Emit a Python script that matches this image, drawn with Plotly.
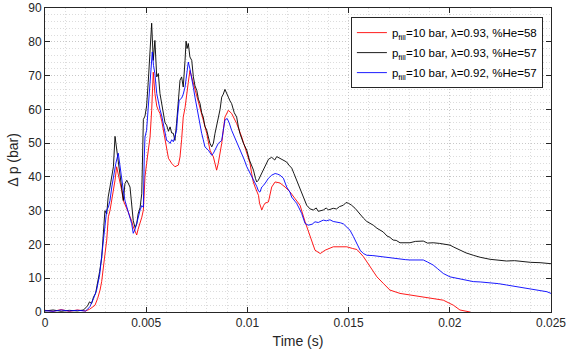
import plotly.graph_objects as go

# ---- data ----
t_red = [0, 0.0004, 0.0008, 0.0012, 0.0016, 0.0020, 0.0022, 0.00247, 0.0026, 0.00272, 0.0028, 0.00288,
         0.00296, 0.00305, 0.00313, 0.00321, 0.0033, 0.00338, 0.00346, 0.00354, 0.00362, 0.0037, 0.00379,
         0.00387, 0.00395, 0.00404, 0.00412, 0.0042, 0.00428, 0.00436, 0.00445, 0.00453, 0.0046, 0.0047,
         0.00478, 0.00486, 0.0049, 0.00494, 0.00502, 0.0051, 0.00519, 0.00527, 0.00535, 0.00543, 0.00552,
         0.0056, 0.00568, 0.00577, 0.00585, 0.00593, 0.00601, 0.0061, 0.00626, 0.00642, 0.00659, 0.00667,
         0.00675, 0.00683, 0.00692, 0.007, 0.00708, 0.00716, 0.00725, 0.00733, 0.00741, 0.0075, 0.00766,
         0.00782, 0.00799, 0.00815, 0.00832, 0.0084, 0.00848, 0.00856, 0.00873, 0.00889, 0.00906, 0.00922,
         0.00947, 0.00972, 0.00997, 0.01013, 0.01021, 0.01029, 0.01038, 0.01046, 0.01055, 0.0106, 0.01071,
         0.0108, 0.01087, 0.01104, 0.0112, 0.01137, 0.01161, 0.01186, 0.0121, 0.01235, 0.0126, 0.01285,
         0.0131, 0.01334, 0.0136, 0.01384, 0.01424, 0.0146, 0.01491, 0.0152, 0.01541, 0.01573, 0.01606,
         0.0164, 0.01671, 0.01704, 0.01754, 0.01803, 0.01869, 0.01918, 0.01968, 0.02018, 0.0205, 0.021, 0.0212]
p_red = [0.5, 0.2, 0.7, 0.2, 0.6, 0.3, 0.8, 2, 4, 6.5, 9, 12.4,
         17, 21.3, 28.2, 30, 33, 36, 39, 43, 41, 39, 36,
         33, 32, 31, 29.5, 28.2, 27, 25.2, 24, 22.8, 24.5, 26.2,
         28, 30.2, 38, 40, 44, 47.9, 51.8, 59.7, 71, 64.7, 61,
         59.7, 58.8, 56.5, 53.8, 51, 47.9, 45.5, 44, 43, 43.5, 45.9,
         51, 57.7, 60.5, 63.6, 68, 71.5, 69.5, 67.7, 66, 64.7, 60.7,
         56.8, 52.9, 47.9, 45.9, 43.5, 42, 44, 49.9, 57.7, 59.7, 58.8,
         55.8, 51.8, 47, 44, 41, 38.5, 37, 36, 34.5, 32.2, 30.2,
         31.5, 32.2, 32.6, 37, 38.5, 38.2, 37, 35.6, 33.6, 31.6, 26.7,
         22.3, 18.3, 17.3, 18.3, 19.3, 19.4, 19.3, 18.8, 18.5, 16.4, 13.4,
         10.4, 8.5, 6.5, 5.5, 5, 4.5, 4, 3.5, 2, 0.6, 0, -1]

t_black = [0, 0.0004, 0.0008, 0.0012, 0.0016, 0.0019, 0.0021, 0.0022, 0.0023, 0.0024, 0.0025, 0.0026,
           0.0027, 0.0028, 0.0029, 0.00296, 0.00305, 0.00312, 0.00321, 0.0033, 0.00338, 0.00346, 0.00354,
           0.0036, 0.0037, 0.00378, 0.00387, 0.00395, 0.00404, 0.0042, 0.00428, 0.00436, 0.00445, 0.00453,
           0.0046, 0.0047, 0.00478, 0.00482, 0.00486, 0.00494, 0.00502, 0.0051, 0.00519, 0.00527, 0.00535,
           0.00543, 0.00552, 0.0056, 0.00568, 0.00576, 0.00585, 0.00593, 0.00601, 0.0061, 0.00618, 0.00626,
           0.00634, 0.00642, 0.0065, 0.00659, 0.00667, 0.00675, 0.00683, 0.00692, 0.00697, 0.00702, 0.00708,
           0.00716, 0.00725, 0.00733, 0.00741, 0.0075, 0.00758, 0.00766, 0.00774, 0.00782, 0.0079, 0.00799,
           0.00807, 0.00815, 0.00824, 0.00832, 0.0084, 0.00848, 0.00856, 0.00865, 0.00873, 0.00881, 0.00889,
           0.00897, 0.00906, 0.00914, 0.00922, 0.00935, 0.00947, 0.00955, 0.00963, 0.0098, 0.00997, 0.0101,
           0.0103, 0.0104, 0.01046, 0.01054, 0.01062, 0.01075, 0.01087, 0.01104, 0.0112, 0.01135, 0.01145,
           0.01161, 0.01178, 0.01194, 0.01205, 0.01219, 0.0123, 0.01243, 0.01255, 0.01268, 0.0128, 0.01293,
           0.0131, 0.01326, 0.0134, 0.0135, 0.01375, 0.0139, 0.0140, 0.01424, 0.0144, 0.01455, 0.01474,
           0.01487, 0.01499, 0.01515, 0.01532, 0.0155, 0.01573, 0.0159, 0.01622, 0.0164, 0.01671, 0.0169,
           0.01704, 0.0172, 0.01735, 0.01754, 0.0178, 0.01803, 0.0183, 0.01869, 0.0189, 0.01918, 0.0195,
           0.02001, 0.0202, 0.0205, 0.0208, 0.02116, 0.0215, 0.02199, 0.0224, 0.0228, 0.0232, 0.02363,
           0.024, 0.02446, 0.0248, 0.025]
p_black = [0.3, 0.6, 0.2, 0.5, 0.3, 0.6, 1.8, 3.0, 2.5, 4.5, 5.5, 8.5,
           12, 16, 24, 30, 29, 34, 37, 40, 43, 52, 48,
           46, 40, 36, 33, 38, 39, 37, 31, 27, 25, 26,
           29, 31, 35, 45, 57, 58, 61, 68, 79.5, 85.5, 74.5,
           80.4, 69.6, 70.6, 64.7, 62, 58.8, 56, 55.3, 53.5, 54.8, 53,
           52.9, 50.8, 55.8, 63.6, 68.6, 69.6, 66.6, 74.5, 80.2, 78, 79.5,
           75.5, 74.5, 69.6, 67, 65.6, 63, 61.7, 59, 57.7, 55, 53.8,
           51.5, 49.9, 48.9, 50, 52.9, 55, 57.7, 60, 63.6, 64.5, 65.9,
           64.5, 63.6, 62.5, 61.7, 59, 57.7, 55, 52.9, 50, 47.9, 45,
           42, 39.5, 38.5, 39, 40, 41.5, 43, 45.2, 45.8, 45, 46,
           45.5, 45, 44.4, 43.5, 42.6, 41, 39, 37, 35.2, 33.5, 31.6,
           30.5, 30.2, 30.8, 29.8, 30.2, 30.8, 30.2, 30.7, 30.5, 31.2, 31.6,
           32.4, 32.2, 31.6, 30.7, 29.3, 27.8, 26.8, 25.7, 24.8, 23.7, 22.5,
           22.1, 21.3, 21.2, 20.5, 20.6, 20.5, 20.9, 21, 20.4, 20.5, 20.3,
           19.8, 19.2, 18.3, 17.5, 16.8, 16.2, 15.6, 15.4, 15.1, 15.2, 14.9,
           14.7, 14.6, 14.4, 14.3]

t_blue = [0, 0.0004, 0.0008, 0.0012, 0.0016, 0.0020, 0.0021, 0.00222, 0.0024, 0.00255, 0.0027, 0.0028,
          0.0029, 0.00305, 0.00313, 0.00321, 0.0033, 0.00338, 0.0035, 0.00362, 0.0037, 0.00379, 0.00387,
          0.00395, 0.00404, 0.00412, 0.0042, 0.00428, 0.00436, 0.00445, 0.00453, 0.0046, 0.0047, 0.00478,
          0.00486, 0.0049, 0.00494, 0.00502, 0.0051, 0.00519, 0.0053, 0.00536, 0.00543, 0.00552, 0.0056,
          0.00568, 0.00577, 0.00585, 0.00593, 0.00601, 0.0061, 0.00618, 0.00626, 0.00634, 0.00642, 0.0065,
          0.00655, 0.00663, 0.00675, 0.00683, 0.00692, 0.007, 0.00708, 0.00716, 0.00725, 0.00733, 0.00741,
          0.0075, 0.00758, 0.00766, 0.00774, 0.00782, 0.0079, 0.00807, 0.00815, 0.00824, 0.00832, 0.0084,
          0.00848, 0.00856, 0.00873, 0.0088, 0.00889, 0.009, 0.0091, 0.00922, 0.00935, 0.00947, 0.0096,
          0.00972, 0.00985, 0.00997, 0.0101, 0.01021, 0.01034, 0.01046, 0.01055, 0.01062, 0.01071, 0.0108,
          0.01092, 0.01104, 0.0112, 0.01137, 0.0115, 0.01161, 0.01178, 0.01194, 0.0121, 0.01219, 0.01235,
          0.01243, 0.01255, 0.01268, 0.01285, 0.01301, 0.0132, 0.01334, 0.0135, 0.01375, 0.0139, 0.01408,
          0.01424, 0.01441, 0.0146, 0.01474, 0.0149, 0.01507, 0.01524, 0.0154, 0.01557, 0.01573, 0.0159,
          0.0162, 0.01655, 0.0168, 0.01704, 0.0173, 0.01754, 0.0178, 0.01803, 0.0184, 0.01869, 0.0189,
          0.01918, 0.0194, 0.01968, 0.02001, 0.0203, 0.0205, 0.0208, 0.02116, 0.0215, 0.02199, 0.0224,
          0.0228, 0.0232, 0.02363, 0.024, 0.02446, 0.0248, 0.025]
p_blue = [0.4, 0.2, 0.6, 0.3, 0.5, 0.3, 0.8, 1.6, 4, 6.5, 11, 16.4,
          22, 30.2, 31, 33, 37, 40, 44, 47, 43, 39, 36,
          33, 31, 29.2, 28, 26.2, 23.3, 24.5, 26.2, 28, 30.2, 31.5,
          31, 45, 51.8, 53.8, 60, 69.6, 77, 73, 70.6, 64.7, 61.7,
          60, 58, 55.8, 53, 50.8, 50.5, 49.9, 51, 50.4, 52, 53.8,
          58, 62.7, 63.3, 64.5, 66.6, 70, 74, 72, 69.6, 66.5, 63.6,
          60.5, 57.7, 55, 52.9, 51, 48.9, 47.9, 47, 46.4, 47, 47.9,
          49, 49.9, 50.8, 53, 56.8, 57.3, 56, 53.8, 52, 50.8, 49,
          47, 45, 43, 41.5, 40, 38.5, 37.2, 35.8, 35.5, 37, 37.5,
          38.5, 39.6, 40.5, 41, 40.8, 40.5, 39.6, 37, 35.5, 34, 32.8,
          32.2, 30.8, 29.2, 26.2, 25.7, 26, 26.7, 26.5, 27.2, 27, 27.3,
          26.8, 26.7, 26.4, 26.1, 25.2, 24.2, 22.3, 20.5, 18.3, 17.3, 16.8,
          16.7, 16.4, 16.2, 16.2, 15.8, 15.6, 15.5, 15.4, 15.5, 15.4, 14.8,
          13.9, 12.8, 11.4, 10.4, 10.0, 9.8, 9.3, 9, 8.9, 8.7, 8.4,
          8, 7.6, 7.3, 6.9, 6.5, 6.0, 5.5]

names = [
    "p<sub>fill</sub>=10 bar, \u03bb=0.93, %He=58",
    "p<sub>fill</sub>=10 bar, \u03bb=0.93, %He=57",
    "p<sub>fill</sub>=10 bar, \u03bb=0.92, %He=57",
]
x_ticks = [0, 0.005, 0.01, 0.015, 0.02, 0.025]
y_ticks = [0, 10, 20, 30, 40, 50, 60, 70, 80, 90]

FONT = "Liberation Sans, Arial, sans-serif"
AX = "#262626"
DOTS = "1px,2px"

fig = go.Figure()
fig.add_trace(go.Scatter(x=t_red, y=p_red, mode="lines", name=names[0], legendgroup="a",
                         line=dict(color="#ff0000", width=0.9)))
fig.add_trace(go.Scatter(x=t_black, y=p_black, mode="lines", name=names[1], legendgroup="b",
                         line=dict(color="#000000", width=0.9)))
fig.add_trace(go.Scatter(x=t_blue, y=p_blue, mode="lines", name=names[2], legendgroup="c",
                         line=dict(color="#0000ff", width=0.9)))

axis_common = dict(
    showline=True, linecolor=AX, linewidth=1, mirror="ticks",
    ticks="inside", ticklen=5, tickcolor=AX, tickwidth=1,
    showgrid=True, gridcolor="#c8c8c8", griddash=DOTS, gridwidth=1,
    zeroline=False, automargin=False,
    tickfont=dict(family=FONT, size=12, color=AX),
)

fig.update_xaxes(range=[0, 0.025], tickvals=x_ticks,
                 ticktext=[f"{v:g}" for v in x_ticks],
                 title=dict(text="Time (s)", font=dict(family=FONT, size=14, color=AX), standoff=6),
                 minor=dict(dtick=0.001, showgrid=True, gridcolor="#dcdcdc", griddash=DOTS, gridwidth=1),
                 **axis_common)
fig.update_yaxes(range=[0, 90], tickvals=y_ticks,
                 title=dict(text="\u0394 p (bar)", font=dict(family=FONT, size=14, color=AX), standoff=6),
                 minor=dict(dtick=2, showgrid=True, gridcolor="#dcdcdc", griddash=DOTS, gridwidth=1),
                 **axis_common)

fig.update_layout(
    width=568, height=356,
    margin=dict(l=45, r=17, t=8, b=44),
    paper_bgcolor="white", plot_bgcolor="white",
    font=dict(family=FONT, color=AX),
    legend=dict(x=0.984, y=0.97, xanchor="right", yanchor="top",
                bgcolor="white", bordercolor=AX, borderwidth=1,
                font=dict(family=FONT, size=11.5, color="#000000"),
                tracegroupgap=1),
    showlegend=True,
)

fig.write_html("out.html")
